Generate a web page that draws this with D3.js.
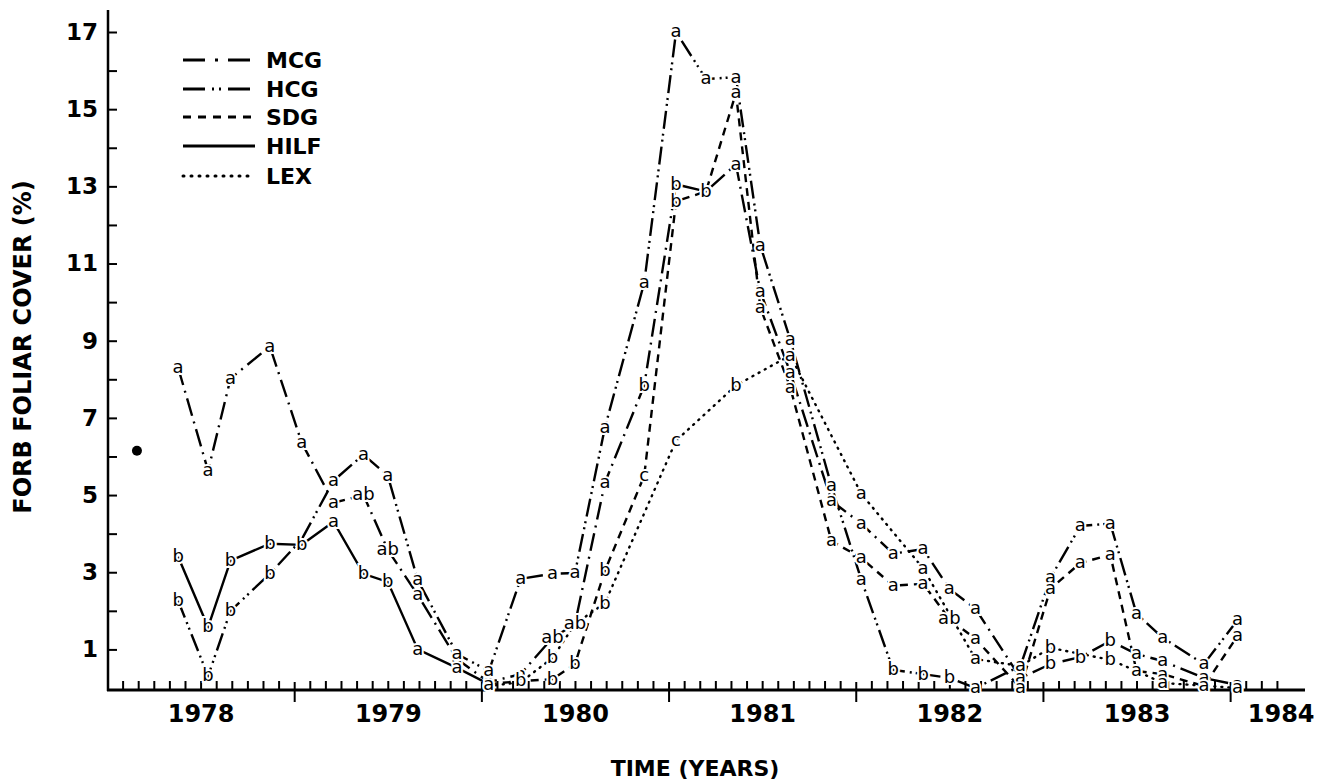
<!DOCTYPE html>
<html>
<head>
<meta charset="utf-8">
<script src="https://cdn.jsdelivr.net/npm/d3@7"></script>
<style>
  body { margin: 0; background: #fff; }
  text { font-family: "DejaVu Sans", sans-serif; fill: #000; }
</style>
</head>
<body>
<div id="chart"></div>
<script>
// sampling dates (decimal years)
var dates = [1978.38, 1978.54, 1978.66, 1978.87, 1979.04, 1979.21, 1979.37, 1979.50, 1979.66, 1979.87,
             1980.04, 1980.21, 1980.38, 1980.50, 1980.66, 1980.87, 1981.04, 1981.20, 1981.36, 1981.49,
             1981.65, 1981.87, 1982.03, 1982.20, 1982.36, 1982.50, 1982.64, 1982.88, 1983.04, 1983.20,
             1983.36, 1983.50, 1983.64, 1983.86, 1984.04];

var mcgValues = [8.3, 5.63, 8.02, 8.85, 6.36, 4.8, 5.0, 3.58, 2.41, 0.75,
                 0.15, 0.36, 1.3, 1.66, 5.32, 7.84, 13.05, 12.87, 13.57, 10.28,
                 8.18, 4.85, 4.26, 3.48, 3.6, 2.57, 2.05, 0.26, 0.62, 0.8,
                 1.22, 0.88, 0.7, 0.26, 0.08];
var mcgLetters = ["a","a","a","a","a","a","ab","ab","a","a",
                  "a","a","ab","ab","a","b","b","b","a","a",
                  "a","a","a","a","a","a","a","a","b","b",
                  "b","a","a","a","a"];

var hcgValues = [2.26, 0.31, 2.0, 2.96, 3.85, 5.37, 6.05, 5.5, 2.8, 0.88,
                 0.44, 2.83, 2.96, 2.98, 6.75, 10.5, 17.0, 15.78, 15.83, 11.47,
                 9.03, 5.24, 2.8, 0.47, 0.36, 0.26, 0.0, 0.57, 2.85, 4.2,
                 4.26, 1.92, 1.3, 0.62, 1.76];
var hcgLetters = ["b","b","b","b","","a","a","a","a","a",
                  "a","a","a","a","a","a","a","a","a","a",
                  "a","a","a","b","b","b","a","a","a","a",
                  "a","a","a","a","a"];

var sdgValues = [null, null, null, null, null, null, null, null, null, null,
                 0.1, 0.18, 0.23, 0.62, 3.04, 5.5, 12.61, 12.87, 15.42, 9.86,
                 7.79, 3.81, 3.37, 2.65, 2.7, 1.79, 1.27, 0.0, 2.57, 3.24,
                 3.45, 0.44, 0.36, 0.05, 1.35];
var sdgLetters = ["","","","","","","","","","",
                  "","b","b","b","b","c","b","b","a","a",
                  "a","a","a","a","a","ab","a","a","a","a",
                  "a","a","a","a","a"];

var hilfValues = [3.4, 1.58, 3.3, 3.74, 3.71, 4.31, 2.96, 2.75, 1.0, 0.52,
                  0.1];
var hilfLetters = ["b","b","b","b","b","a","b","b","a","a",
                   "a"];

var lexValues = [null, null, null, null, null, null, null, null, null, null,
                 0.05, 0.15, 0.78, 1.66, 2.2, null, 6.41, null, 7.84, null,
                 8.62, null, 5.03, null, 3.1, null, 0.75, 0.57, 1.04, null,
                 0.73, 0.44, 0.13, null, 0.0];
var lexLetters = ["","","","","","","","","","",
                  "","","b","ab","b","","c","","b","",
                  "a","","a","","a","","a","a","b","",
                  "b","a","a","","a"];

// single pre-treatment point
var startDate = [1978.16];
var startValue = [6.15];

var seriesNames = ["MCG", "HCG", "SDG", "HILF", "LEX"];
var seriesDash = ["18,6,2,6", "18,5,2,4,2,5", "8,6", null, "1,6"];
var legendDash = ["22,10,3,10", "22,7,2,5,2,7", "8,7", null, "1,7"];

var yTicks = d3.range(1, 18);
var yearLabels = ["1978", "1979", "1980", "1981", "1982", "1983", "1984"];
var yearLabelPos = [1978.5, 1979.5, 1980.5, 1981.5, 1982.5, 1983.5, 1984.27];
var yearTicks = [1979, 1980, 1981, 1982, 1983, 1984];

var fullwidth = 1321, fullheight = 784;

var svg = d3.select("#chart")
    .append("svg")
    .attr("width", fullwidth)
    .attr("height", fullheight);

var xScale = d3.scaleLinear().domain([1978, 1984.4]).range([107, 1305]);
var yScale = d3.scaleLinear().domain([0, 17]).range([688, 32]);
var axisY = 690;

// month ticks
var monthTicks = [];
for (var m = 1; m <= 75; m++) {
    if (m % 12 !== 0) monthTicks.push(1978 + m / 12);
}

// y axis
var yAxis = d3.axisLeft(yScale)
    .tickValues(yTicks)
    .tickSizeInner(-9)
    .tickSizeOuter(0)
    .tickPadding(10)
    .tickFormat(function(d) { return d % 2 === 1 ? d : ""; });

var yAxisEle = svg.append("g")
    .classed("y axis", true)
    .attr("transform", "translate(108,0)")
    .call(yAxis);
yAxisEle.select(".domain").remove();
yAxisEle.selectAll("line").attr("stroke", "#000").attr("stroke-width", 2);
yAxisEle.selectAll("text")
    .style("font-size", "23px")
    .style("font-weight", "bold")
    .attr("font-family", null);

svg.append("line")
    .attr("x1", 108).attr("x2", 108)
    .attr("y1", 10).attr("y2", axisY + 1)
    .attr("stroke", "#000").attr("stroke-width", 2.5);

// x axis: month ticks
var xMinor = d3.axisBottom(xScale)
    .tickValues(monthTicks)
    .tickSizeInner(-9)
    .tickSizeOuter(0)
    .tickFormat("");
var xMinorEle = svg.append("g")
    .classed("x axis minor", true)
    .attr("transform", "translate(0," + axisY + ")")
    .call(xMinor);
xMinorEle.select(".domain").remove();
xMinorEle.selectAll("line").attr("stroke", "#000").attr("stroke-width", 2);

// year boundary ticks
var xMajor = d3.axisBottom(xScale)
    .tickValues(yearTicks)
    .tickSizeInner(12)
    .tickSizeOuter(0)
    .tickFormat("");
var xMajorEle = svg.append("g")
    .classed("x axis major", true)
    .attr("transform", "translate(0," + axisY + ")")
    .call(xMajor);
xMajorEle.select(".domain").remove();
xMajorEle.selectAll("line").attr("y1", -8).attr("stroke", "#000").attr("stroke-width", 2);

// year labels
var xLabels = d3.axisBottom(xScale)
    .tickValues(yearLabelPos)
    .tickSize(0)
    .tickPadding(15)
    .tickFormat(function(d, i) { return yearLabels[i]; });
var xLabelEle = svg.append("g")
    .classed("x axis labels", true)
    .attr("transform", "translate(0," + axisY + ")")
    .call(xLabels);
xLabelEle.select(".domain").remove();
xLabelEle.selectAll("text")
    .style("font-size", "24px")
    .style("font-weight", "bold")
    .attr("font-family", null);

svg.append("line")
    .attr("x1", 107).attr("x2", 1305)
    .attr("y1", axisY).attr("y2", axisY)
    .attr("stroke", "#000").attr("stroke-width", 3);

// axis titles
svg.append("text")
    .attr("transform", "translate(31,347)rotate(-90)")
    .style("text-anchor", "middle")
    .style("font-size", "24px")
    .style("font-weight", "bold")
    .text("FORB FOLIAR COVER (%)");

svg.append("text")
    .attr("x", 695)
    .attr("y", 776)
    .style("text-anchor", "middle")
    .style("font-size", "22px")
    .style("font-weight", "bold")
    .text("TIME (YEARS)");

// series
var allValues = [mcgValues, hcgValues, sdgValues, hilfValues, lexValues];
var allLetters = [mcgLetters, hcgLetters, sdgLetters, hilfLetters, lexLetters];

var line = d3.line()
    .x(function(d) { return xScale(d.date); })
    .y(function(d) { return yScale(d.value); });

var seriesData = allValues.map(function(vals, s) {
    var pts = [];
    vals.forEach(function(v, i) {
        if (v !== null) pts.push({date: dates[i], value: v, letter: allLetters[s][i]});
    });
    return pts;
});

var lineHolder = svg.append("g").classed("lines", true);
seriesData.forEach(function(pts, s) {
    lineHolder.append("path")
        .datum(pts)
        .attr("fill", "none")
        .attr("stroke", "#000")
        .attr("stroke-width", 2.4)
        .attr("stroke-linecap", s === 4 ? "round" : "butt")
        .attr("stroke-dasharray", seriesDash[s])
        .attr("d", line);
});

var letterHolder = svg.append("g").classed("letters", true);
seriesData.forEach(function(pts) {
    letterHolder.selectAll(null)
        .data(pts.filter(function(d) { return d.letter !== ""; }))
        .enter().append("text")
        .attr("x", function(d) { return xScale(d.date); })
        .attr("y", function(d) { return yScale(d.value); })
        .attr("dy", "0.3em")
        .style("text-anchor", "middle")
        .style("font-size", "18px")
        .style("paint-order", "stroke")
        .style("stroke", "#fff")
        .style("stroke-width", 4)
        .text(function(d) { return d.letter; });
});

svg.selectAll("circle.start")
    .data(startDate)
    .enter().append("circle")
    .classed("start", true)
    .attr("cx", function(d) { return xScale(d); })
    .attr("cy", function(d, i) { return yScale(startValue[i]); })
    .attr("r", 5)
    .attr("fill", "#000");

// legend
var legend = svg.append("g").classed("legend", true);
var legendY = [60, 89, 117, 146, 176];
seriesNames.forEach(function(name, s) {
    legend.append("line")
        .attr("x1", 183).attr("x2", 255)
        .attr("y1", legendY[s]).attr("y2", legendY[s])
        .attr("stroke", "#000")
        .attr("stroke-width", 3)
        .attr("stroke-linecap", s === 4 ? "round" : "butt")
        .attr("stroke-dasharray", legendDash[s]);
    legend.append("text")
        .attr("x", 266)
        .attr("y", legendY[s])
        .attr("dy", "0.36em")
        .style("font-size", "22px")
        .style("font-weight", "bold")
        .text(name);
});
</script>
</body>
</html>
